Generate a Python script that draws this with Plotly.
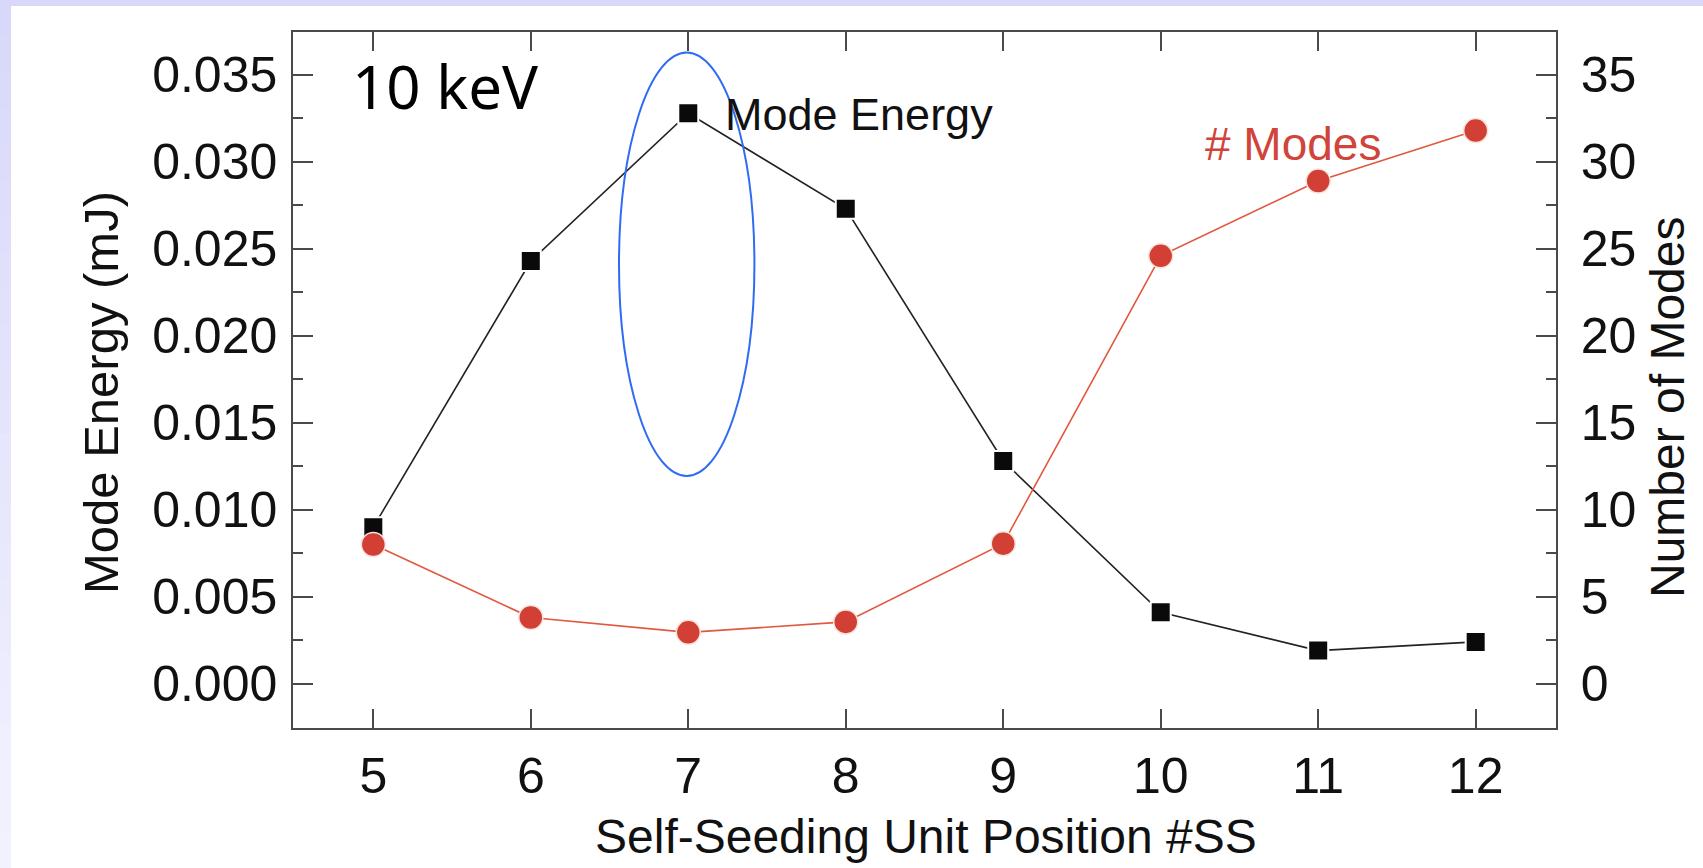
import plotly.graph_objects as go

# ---- data ----
positions = [5, 6, 7, 8, 9, 10, 11, 12]
mode_energy_mj = [0.0090, 0.0243, 0.0328, 0.0273, 0.0128, 0.0041, 0.0019, 0.0024]
num_modes = [8.0, 3.8, 2.95, 3.55, 8.05, 24.6, 28.9, 31.8]
x_ticks = [5, 6, 7, 8, 9, 10, 11, 12]
left_ticks = [0.000, 0.005, 0.010, 0.015, 0.020, 0.025, 0.030, 0.035]
right_ticks = [0, 5, 10, 15, 20, 25, 30, 35]

W, H = 1703, 868
L, R, T, B = 293, 1556, 32, 728  # plot-area pixel box


def px(xp):
    return (xp - L) / (R - L)


def py(yp):
    return (B - yp) / (B - T)


FONT = "Liberation Sans, Arial, sans-serif"
BLACK_LINE = "#222222"
RED = "#d23f34"
RED_LINE = "#e2573f"
AX = "#4a4a4a"

fig = go.Figure()

fig.add_trace(go.Scatter(
    x=positions, y=mode_energy_mj, mode="lines+markers",
    line=dict(color=BLACK_LINE, width=1.6),
    marker=dict(symbol="square", size=20, color="#0a0a0a",
                line=dict(color="white", width=2)),
    yaxis="y", showlegend=False, hoverinfo="x+y",
))
fig.add_trace(go.Scatter(
    x=positions, y=num_modes, mode="lines+markers",
    line=dict(color=RED_LINE, width=1.6),
    marker=dict(symbol="circle", size=24, color=RED,
                line=dict(color="#fbe3dc", width=1.5)),
    yaxis="y2", showlegend=False, hoverinfo="x+y",
))

common = dict(showline=True, linecolor=AX, linewidth=1.5, ticks="inside",
              tickcolor=AX, tickwidth=1.5, showgrid=False, zeroline=False,
              tickfont=dict(family=FONT, size=50, color="#111111"))

fig.update_layout(
    width=W, height=H,
    margin=dict(l=L, r=W - R, t=T, b=H - B, pad=0),
    paper_bgcolor="white", plot_bgcolor="white",
    xaxis=dict(range=[4.49, 12.51], tickmode="array", tickvals=x_ticks,
               ticklen=19, mirror="ticks", ticklabelstandoff=3, **common),
    yaxis=dict(range=[-0.00255, 0.03747], tickmode="array", tickvals=left_ticks,
               tickformat=".3f", ticklen=20, mirror=True, ticklabelstandoff=4,
               minor=dict(dtick=0.0025, tick0=0, ticks="inside", ticklen=10,
                          tickcolor=AX, tickwidth=1.5),
               **common),
    yaxis2=dict(range=[-2.55, 37.47], overlaying="y", side="right",
                tickmode="array", tickvals=right_ticks, ticklen=20,
                ticklabelstandoff=13,
                minor=dict(dtick=2.5, tick0=0, ticks="inside", ticklen=10,
                           tickcolor=AX, tickwidth=1.5),
                **common),
)

# lavender page border (top band and left band with vertical gradient)
fig.add_shape(type="rect", xref="paper", yref="paper",
              x0=px(0), x1=px(W), y0=py(6), y1=py(0),
              fillcolor="#d8d8fa", line=dict(width=0), layer="below")
n = 24
c0 = (0xd8, 0xd8, 0xfa)
c1 = (0xf2, 0xf2, 0xfe)
for i in range(n):
    t = i / (n - 1)
    col = "rgb(%d,%d,%d)" % tuple(round(a + (b - a) * t) for a, b in zip(c0, c1))
    y_top = i * H / n
    y_bot = (i + 1) * H / n + 1
    fig.add_shape(type="rect", xref="paper", yref="paper",
                  x0=px(0), x1=px(11), y0=py(min(y_bot, H)), y1=py(y_top),
                  fillcolor=col, line=dict(width=0), layer="below")

# blue ellipse highlighting SS position 7
fig.add_shape(type="circle", xref="x", yref="y",
              x0=6.56, x1=7.42, y0=0.01194, y1=0.03629,
              line=dict(color="#2f6cf2", width=2), layer="above")

# text labels
fig.add_annotation(text="10 keV", xref="paper", yref="paper",
                   x=px(350), y=py(86), xanchor="left", yanchor="middle",
                   showarrow=False,
                   font=dict(family="Noto Sans, Open Sans, sans-serif", size=60, color="#000000"))
fig.add_annotation(text="Mode Energy", xref="paper", yref="paper",
                   x=px(723), y=py(114), xanchor="left", yanchor="middle",
                   showarrow=False, font=dict(family=FONT, size=45, color="#111111"))
fig.add_annotation(text="# Modes", xref="paper", yref="paper",
                   x=px(1203), y=py(144), xanchor="left", yanchor="middle",
                   showarrow=False, font=dict(family=FONT, size=46, color="#d0443a"))

# axis titles
fig.add_annotation(text="Mode Energy (mJ)", xref="paper", yref="paper",
                   x=px(101), y=py(393), xanchor="center", yanchor="middle",
                   textangle=-90, showarrow=False,
                   font=dict(family=FONT, size=49, color="#111111"))
fig.add_annotation(text="Number of Modes", xref="paper", yref="paper",
                   x=px(1668), y=py(407), xanchor="center", yanchor="middle",
                   textangle=-90, showarrow=False,
                   font=dict(family=FONT, size=48, color="#111111"))
fig.add_annotation(text="Self-Seeding Unit Position #SS", xref="paper", yref="paper",
                   x=px(926), y=py(836), xanchor="center", yanchor="middle",
                   showarrow=False, font=dict(family=FONT, size=48, color="#111111"))

fig.write_html("out.html")
